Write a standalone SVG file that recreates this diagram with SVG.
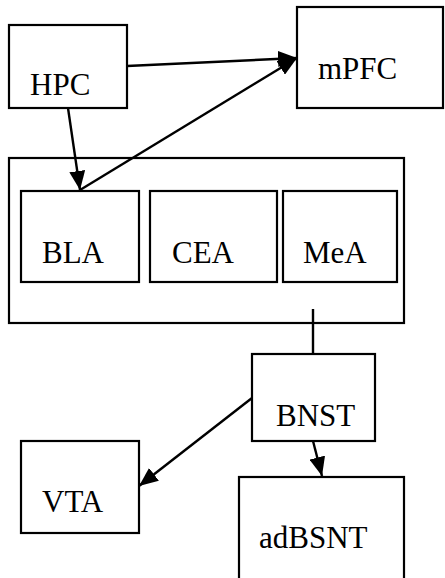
<svg xmlns="http://www.w3.org/2000/svg" width="445" height="578" viewBox="0 0 445 578">
  <style>
    .box { fill: #ffffff; stroke: #000000; stroke-width: 2.2; }
    .lbl { font-family: "Liberation Serif", "Times New Roman", serif; font-size: 31px; fill: #000000; }
    .edge { fill: none; stroke: #000000; stroke-width: 2.4; }
  </style>
  <defs>
    <marker id="arrow" markerUnits="userSpaceOnUse" markerWidth="20" markerHeight="16" refX="19" refY="8" orient="auto">
      <path d="M0,0 L19,8 L0,16 Z" fill="#000000"/>
    </marker>
  </defs>

  <rect width="445" height="578" fill="#ffffff"/>

  <!-- amygdala container -->
  <g id="amygdala">
    <rect class="box" x="9" y="158" width="395" height="165"/>
  </g>

  <g id="HPC">
    <rect class="box" x="9" y="25" width="118" height="83"/>
    <text class="lbl" x="30" y="95">HPC</text>
  </g>
  <g id="mPFC">
    <rect class="box" x="297" y="7" width="146" height="101"/>
    <text class="lbl" x="318" y="79">mPFC</text>
  </g>
  <g id="BLA">
    <rect class="box" x="21" y="191" width="118" height="91"/>
    <text class="lbl" x="42" y="263">BLA</text>
  </g>
  <g id="CEA">
    <rect class="box" x="150" y="191" width="127" height="91"/>
    <text class="lbl" x="172" y="263">CEA</text>
  </g>
  <g id="MeA">
    <rect class="box" x="283" y="191" width="114" height="91"/>
    <text class="lbl" x="303" y="263">MeA</text>
  </g>
  <g id="BNST">
    <rect class="box" x="252" y="354" width="123" height="87"/>
    <text class="lbl" x="276" y="426">BNST</text>
  </g>
  <g id="VTA">
    <rect class="box" x="21" y="441" width="118" height="92"/>
    <text class="lbl" x="42" y="512">VTA</text>
  </g>
  <g id="adBSNT">
    <rect class="box" x="239" y="477" width="165" height="105"/>
    <text class="lbl" x="259" y="548">adBSNT</text>
  </g>

  <g id="connectors">
    <line class="edge" x1="127" y1="66" x2="297" y2="58" marker-end="url(#arrow)"/>
    <line class="edge" x1="80" y1="190" x2="297" y2="58" marker-end="url(#arrow)"/>
    <line class="edge" x1="68" y1="108" x2="80" y2="190" marker-end="url(#arrow)"/>
    <line class="edge" x1="313" y1="309" x2="313" y2="354"/>
    <line class="edge" x1="252" y1="398" x2="139" y2="486" marker-end="url(#arrow)"/>
    <line class="edge" x1="313" y1="441" x2="322" y2="476" marker-end="url(#arrow)"/>
  </g>
</svg>
